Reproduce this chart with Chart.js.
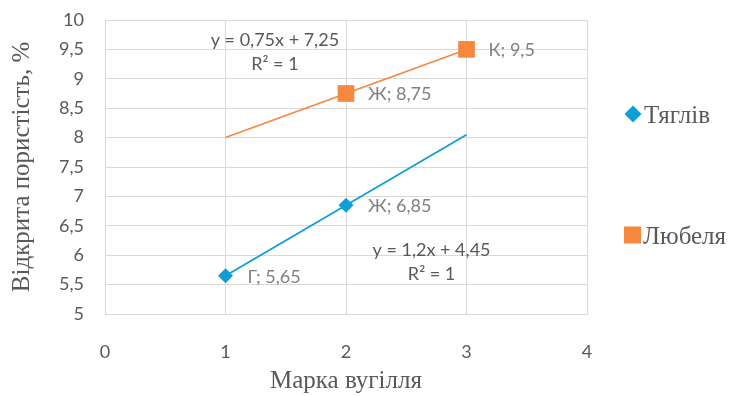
<!DOCTYPE html>
<html><head><meta charset="utf-8">
<script src="https://cdn.jsdelivr.net/npm/chart.js@4.4.1/dist/chart.umd.min.js"></script>
<style>html,body{margin:0;padding:0;background:#fff}#wrap{width:731px;height:396px}</style>
</head><body><div id="wrap"><canvas id="c" width="731" height="396"></canvas></div>
<script>
// ---- data ----
const seriesNames = ['Тяглів', 'Любеля'];
const tyaglivX = [1, 2];
const tyaglivY = [5.65, 6.85];
const tyaglivCats = ['Г', 'Ж'];
const lyubelyaX = [2, 3];
const lyubelyaY = [8.75, 9.5];
const lyubelyaCats = ['Ж', 'К'];
const tyaglivTrendX = [1, 3];
const tyaglivTrendY = [5.65, 8.05];
const lyubelyaTrendX = [1, 3];
const lyubelyaTrendY = [8.0, 9.5];
const tyaglivEq = ['y = 1,2x + 4,45', 'R² = 1'];
const lyubelyaEq = ['y = 0,75x + 7,25', 'R² = 1'];
const xTicks = [0, 1, 2, 3, 4];
const yTicks = [5, 5.5, 6, 6.5, 7, 7.5, 8, 8.5, 9, 9.5, 10];
const xTitle = 'Марка вугілля';
const yTitle = 'Відкрита пористість, %';

const BLUE = '#0F9ED5', ORANGE = '#F5873F';
const TICK = '#595959', LABEL = '#808080', GRID = '#D9D9D9';
const SANS = 'Lato', SERIF = 'Liberation Serif, serif';
const fmt = v => String(v).replace('.', ',');
const pts = (xs, ys) => xs.map((x, i) => ({x, y: ys[i]}));

const dataLabels = {
  id: 'dataLabels',
  afterDatasetsDraw(chart) {
    const ctx = chart.ctx;
    ctx.save();
    ctx.font = '18px ' + SANS;
    ctx.fillStyle = LABEL;
    ctx.textAlign = 'left';
    ctx.textBaseline = 'middle';
    chart.data.datasets.forEach((ds, di) => {
      if (!ds.cats) return;
      const meta = chart.getDatasetMeta(di);
      meta.data.forEach((el, i) => {
        ctx.fillText(ds.cats[i] + '; ' + fmt(ds.data[i].y), el.x + 22, el.y + 1);
      });
    });
    const xs = chart.scales.x, ys = chart.scales.y;
    ctx.fillStyle = TICK;
    ctx.textAlign = 'center';
    const eqs = [[lyubelyaEq, 1.41, 9.65], [tyaglivEq, 2.71, 6.09]];
    eqs.forEach(([lines, vx, vy]) => {
      const px = xs.getPixelForValue(vx), py = ys.getPixelForValue(vy);
      lines.forEach((t, k) => ctx.fillText(t, px, py + k * 24));
    });
    ctx.restore();
  }
};

const legendPlugin = {
  id: 'customLegend',
  afterDraw(chart) {
    const ctx = chart.ctx;
    ctx.save();
    ctx.font = '25px ' + SERIF;
    ctx.textAlign = 'left';
    ctx.textBaseline = 'middle';
    let cx = 633, cy = 114;
    ctx.fillStyle = BLUE;
    ctx.beginPath();
    ctx.moveTo(cx - 8.5, cy); ctx.lineTo(cx, cy - 8.5); ctx.lineTo(cx + 8.5, cy); ctx.lineTo(cx, cy + 8.5);
    ctx.closePath(); ctx.fill();
    ctx.fillStyle = TICK;
    ctx.fillText(seriesNames[0], 644, cy + 2);
    cy = 235;
    ctx.fillStyle = ORANGE;
    ctx.fillRect(624, cy - 8.5, 17, 17);
    ctx.fillStyle = TICK;
    ctx.fillText(seriesNames[1], 643, cy + 2);
    ctx.restore();
  }
};

new Chart(document.getElementById('c'), {
  type: 'scatter',
  data: {
    datasets: [
      { label: seriesNames[1] + ' trend', data: pts(lyubelyaTrendX, lyubelyaTrendY), showLine: true,
        borderColor: ORANGE, borderWidth: 1.6, pointRadius: 0, order: 3 },
      { label: seriesNames[0] + ' trend', data: pts(tyaglivTrendX, tyaglivTrendY), showLine: true,
        borderColor: BLUE, borderWidth: 1.8, pointRadius: 0, order: 3 },
      { label: seriesNames[0], data: pts(tyaglivX, tyaglivY), cats: tyaglivCats, showLine: false,
        pointStyle: 'rectRot', pointRadius: 7.5, backgroundColor: BLUE, borderColor: BLUE, borderWidth: 0, order: 1 },
      { label: seriesNames[1], data: pts(lyubelyaX, lyubelyaY), cats: lyubelyaCats, showLine: false,
        pointStyle: 'rect', pointRadius: 11.8, backgroundColor: ORANGE, borderColor: ORANGE, borderWidth: 0, order: 1 }
    ]
  },
  options: {
    responsive: false,
    devicePixelRatio: 1,
    animation: false,
    layout: { padding: { top: 20, right: 144, left: 0, bottom: 0 } },
    plugins: { legend: { display: false }, tooltip: { enabled: false } },
    scales: {
      x: {
        type: 'linear', min: 0, max: 4,
        afterBuildTicks: s => { s.ticks = xTicks.map(v => ({value: v})); },
        afterFit: s => { s.height = 82; s.paddingLeft = 0; s.paddingRight = 0; },
        grid: { color: GRID, lineWidth: 1, drawTicks: false },
        border: { color: GRID },
        ticks: { color: TICK, font: { family: SANS, size: 18 }, padding: 27, callback: v => fmt(v) },
        title: { display: true, text: xTitle, color: TICK, font: { family: SERIF, size: 25 }, padding: { top: 0, bottom: 0 } }
      },
      y: {
        type: 'linear', min: 5, max: 10,
        afterBuildTicks: s => { s.ticks = yTicks.map(v => ({value: v})); },
        afterFit: s => { s.width = 105; s.paddingTop = 0; s.paddingBottom = 0; },
        grid: { color: GRID, lineWidth: 1, drawTicks: false },
        border: { color: GRID },
        ticks: { color: TICK, font: { family: SANS, size: 18 }, padding: 21, callback: v => fmt(v) },
        title: { display: true, text: yTitle, color: TICK, font: { family: SERIF, size: 25 }, padding: { top: 7, bottom: 0 } }
      }
    }
  },
  plugins: [dataLabels, legendPlugin]
});
</script>
</body></html>
